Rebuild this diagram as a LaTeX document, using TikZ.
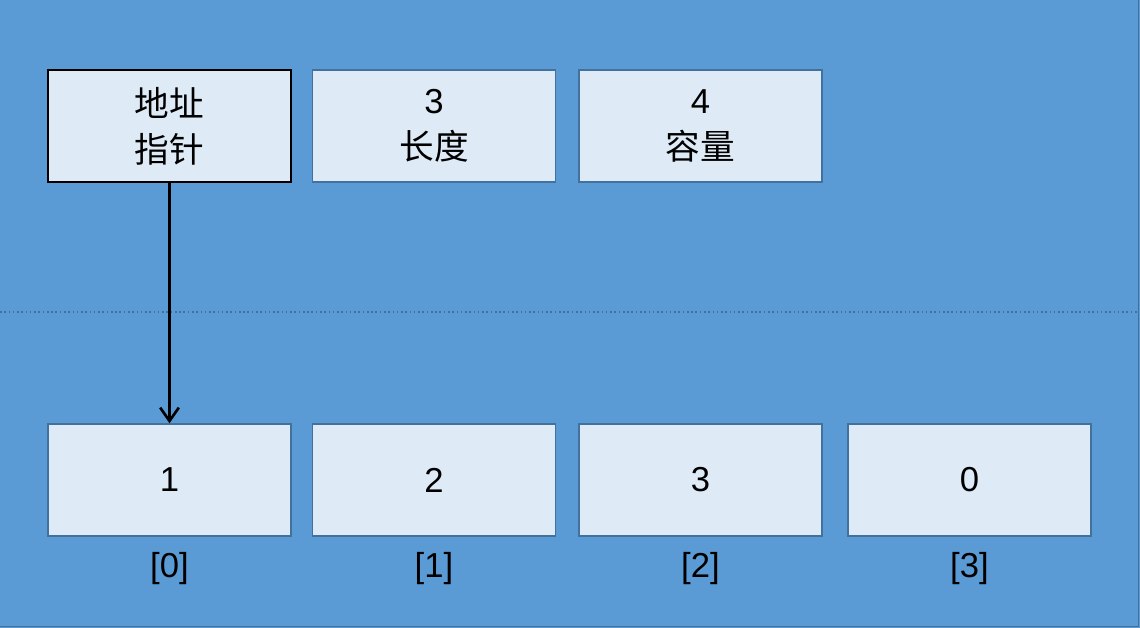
\documentclass[tikz,border=0pt]{standalone}
\usepackage{fontspec}
\setmainfont{Liberation Sans}
\newfontfamily\cjk{Noto Sans CJK SC}
\usetikzlibrary{arrows.meta}
\definecolor{bgblue}{HTML}{5B9BD5}
\definecolor{cellfill}{HTML}{DEEBF7}
\definecolor{celledge}{HTML}{41719C}

\begin{document}
\begin{tikzpicture}[x=0.75pt,y=-0.75pt,
    cell/.style={draw=celledge,line width=1.1pt,fill=cellfill,minimum width=182pt,minimum height=84pt,
      align=center,font=\fontsize{26}{34.5}\selectfont,inner sep=0pt},
    idx/.style={font=\fontsize{26}{34.5}\selectfont}]
      \useasboundingbox (0,0) rectangle (1140,628);
      \fill[bgblue] (0,0) rectangle (1140,628);
      \draw[celledge,line width=1pt] (1138.5,0) -- (1138.5,626.5) -- (0,626.5);
      \draw[celledge,line width=1.2pt,dotted] (0,312) -- (1138,312);
      % slice header
      \node[cell,draw=black,line width=1.5pt] (Ptr) at (169.5,126) {{\cjk 地址}\\{\cjk 指针}};
      \node[cell] (Len) at (434,126) {3\\{\cjk 长度}};
      \node[cell] (Cap) at (700.5,126) {4\\{\cjk 容量}};
      % underlying array
      \node[cell] (A0) at (169.5,480) {1};
      \node[cell] (A1) at (434,480) {2};
      \node[cell] (A2) at (700.5,480) {3};
      \node[cell] (A3) at (969.5,480) {0};
      \node[idx] (I0) at (169.5,569) {[0]};
      \node[idx] (I1) at (434,569) {[1]};
      \node[idx] (I2) at (700.5,569) {[2]};
      \node[idx] (I3) at (969.5,569) {[3]};
      \draw[-{Straight Barb[length=10pt,width=14pt]},line width=2pt] (Ptr) -- (A0);
    \end{tikzpicture}
\end{document}
